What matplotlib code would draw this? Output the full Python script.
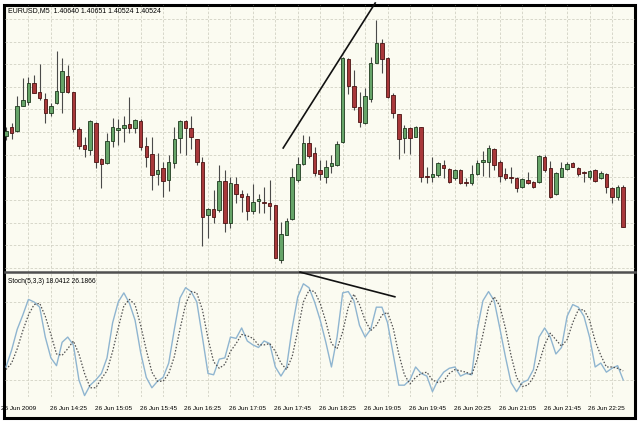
import matplotlib.pyplot as plt
from matplotlib.patches import Rectangle
import numpy as np

# EURUSD M5 candles, price levels (arbitrary points, higher = higher price)
opens = [134, 143, 139, 164, 168, 187, 178, 171, 157, 167,
         178, 194, 178, 141, 125, 120, 147, 111, 107, 129,
         140, 142, 146, 142, 149, 124, 116, 96, 102, 90,
         107, 132, 149, 142, 131, 108, 55, 61, 60, 89,
         47, 86, 76, 74, 59, 69, 68, 67, 65, 10,
         35, 51, 90, 106, 127, 117, 100, 93, 104, 105,
         128, 211, 184, 163, 147, 171, 207, 227, 212, 175,
         156, 132, 142, 133, 143, 94, 93, 95, 105, 101,
         92, 100, 88, 87, 96, 108, 108, 121, 108, 96,
         93, 92, 83, 90, 88, 88, 113, 102, 76, 93,
         101, 107, 102, 98, 93, 100, 92, 96, 82, 73,
         83]
closes = [139, 137, 164, 170, 187, 177, 172, 157, 164, 179,
          199, 178, 141, 124, 121, 149, 108, 106, 129, 143,
          142, 145, 142, 150, 123, 113, 95, 100, 89, 108,
          131, 149, 142, 133, 108, 53, 61, 53, 89, 47,
          87, 76, 73, 59, 68, 71, 67, 64, 12, 36,
          49, 93, 106, 127, 114, 97, 96, 103, 107, 126,
          212, 184, 163, 148, 174, 207, 227, 211, 173, 157,
          131, 142, 132, 143, 93, 93, 96, 107, 102, 88,
          100, 87, 87, 96, 107, 110, 122, 105, 94, 92,
          92, 82, 91, 87, 83, 114, 100, 73, 97, 102,
          106, 103, 96, 97, 99, 89, 97, 83, 73, 83,
          43]
highs = [143, 147, 174, 192, 193, 195, 206, 177, 167, 219,
         212, 205, 178, 143, 133, 150, 148, 112, 137, 152,
         151, 154, 173, 151, 151, 133, 133, 117, 108, 115,
         143, 150, 150, 154, 131, 113, 62, 80, 105, 100,
         93, 93, 80, 77, 86, 76, 83, 90, 65, 48,
         52, 102, 113, 135, 134, 123, 110, 110, 115, 129,
         213, 212, 200, 178, 182, 213, 250, 231, 213, 177,
         156, 145, 143, 144, 143, 103, 113, 108, 110, 102,
         101, 101, 92, 105, 110, 119, 125, 122, 110, 102,
         103, 93, 92, 98, 89, 115, 115, 109, 98, 108,
         108, 108, 103, 99, 100, 101, 99, 97, 83, 85,
         85]
lows = [130, 131, 138, 164, 165, 177, 170, 147, 154, 166,
        157, 177, 138, 121, 113, 115, 102, 82, 106, 123,
        125, 128, 137, 137, 120, 103, 80, 85, 73, 79,
        102, 117, 115, 121, 105, 24, 32, 47, 58, 38,
        42, 67, 58, 50, 56, 57, 57, 50, 12, 7,
        35, 50, 88, 105, 112, 94, 90, 87, 97, 104,
        127, 176, 160, 143, 146, 168, 207, 197, 172, 152,
        111, 117, 116, 133, 88, 87, 88, 93, 92, 87,
        90, 86, 84, 85, 95, 94, 93, 100, 88, 90,
        87, 78, 82, 86, 82, 87, 98, 72, 75, 93,
        100, 103, 94, 88, 91, 88, 91, 77, 67, 70,
        43]

# Stochastic(5,3,3): %K (solid) and %D (dotted)
stoch_k = [30, 43, 59, 70, 82, 80, 76, 53, 37, 31,
           49, 53, 47, 20, 8, 16, 20, 25, 37, 64,
           80, 87, 79, 66, 41, 22, 14, 19, 22, 33,
           59, 83, 91, 88, 80, 53, 25, 24, 36, 37,
           53, 52, 60, 50, 47, 45, 50, 48, 30, 23,
           30, 60, 84, 94, 91, 80, 66, 49, 30, 53,
           87, 88, 81, 62, 53, 59, 76, 76, 64, 40,
           16, 16, 20, 30, 25, 23, 11, 20, 26, 29,
           30, 23, 25, 24, 59, 81, 88, 81, 60, 38,
           18, 11, 18, 20, 28, 53, 60, 53, 40, 45,
           69, 78, 76, 69, 53, 30, 33, 26, 29, 31,
           20]
stoch_d = [28, 33, 44, 58, 70, 78, 79, 69, 55, 40,
           39, 44, 50, 40, 25, 14, 14, 21, 27, 42,
           60, 77, 82, 78, 62, 43, 26, 19, 19, 25,
           38, 59, 78, 88, 87, 74, 52, 34, 29, 32,
           42, 48, 55, 54, 52, 47, 47, 48, 42, 33,
           28, 38, 58, 80, 89, 88, 79, 65, 48, 44,
           57, 76, 86, 78, 66, 58, 62, 70, 72, 60,
           40, 24, 17, 22, 25, 26, 20, 18, 19, 25,
           28, 27, 26, 24, 36, 55, 76, 84, 77, 60,
           39, 22, 15, 16, 22, 33, 47, 56, 51, 46,
           51, 64, 74, 74, 66, 50, 39, 30, 30, 29,
           27]

time_labels = ['26 Jun 2009', '26 Jun 14:25', '26 Jun 15:05', '26 Jun 15:45',
               '26 Jun 16:25', '26 Jun 17:05', '26 Jun 17:45', '26 Jun 18:25',
               '26 Jun 19:05', '26 Jun 19:45', '26 Jun 20:25', '26 Jun 21:05',
               '26 Jun 21:45', '26 Jun 22:25']
label_bars = [-0.7, 8, 16, 24, 32, 40, 48, 56, 64, 72, 80, 88, 96, 104]

# hand drawn trend lines (bar index, level)
price_line = ([49.4, 65.8], [122, 267])
stoch_line = ([52.4, 69.3], [103, 84])

bg = '#fbfbf1'
grid_col = '#d2d2c4'
font = ['Liberation Sans', 'DejaVu Sans']

fig = plt.figure(figsize=(6.4, 4.28), dpi=100)
fig.patch.set_facecolor('white')
fig.add_artist(Rectangle((4 / 640, 1 - 418 / 428), 631 / 640, 413 / 428,
                         transform=fig.transFigure, facecolor=bg,
                         edgecolor='black', lw=2.2, zorder=0))

ax = fig.add_axes([5 / 640, 1 - 272 / 428, 630 / 640, 267 / 428])
ax2 = fig.add_axes([5 / 640, 1 - 397 / 428, 630 / 640, 124 / 428])

x = np.arange(len(opens))
o = np.array(opens)
c = np.array(closes)

for a in (ax, ax2):
    a.set_facecolor('none')
    a.set_xlim(-0.18, 112.1)
    a.set_xticks([])
    a.set_yticks([])
    for s in a.spines.values():
        s.set_visible(False)
    for gx in range(4, 112, 4):
        a.axvline(gx, color=grid_col, lw=0.6, ls=(0, (3, 2)), zorder=1)

# price panel
ax.set_ylim(-2, 265)
for gy in np.arange(2, 265, 22.65):
    ax.axhline(gy, color=grid_col, lw=0.6, ls=(0, (3, 2)), zorder=1)
ax.spines['bottom'].set_visible(True)
ax.spines['bottom'].set_color('#505050')
ax.spines['bottom'].set_linewidth(1.8)

up = c >= o
body_col = np.where(up, '#66a468', '#a8383a')
edge_col = np.where(up, '#1e3a1e', '#4a1212')
ax.vlines(x, lows, highs, color='#4a4a4a', lw=0.8, zorder=2)
ax.bar(x, c - o, bottom=o, width=0.62, color=body_col, edgecolor=edge_col,
       lw=0.6, zorder=3)
ax.plot(*price_line, color='#111111', lw=1.2, zorder=4, clip_on=False)
ax.text(0.005, 0.981, 'EURUSD,M5  1.40640 1.40651 1.40524 1.40524',
        transform=ax.transAxes, fontsize=5, family=font, va='center', ha='left')

# stochastic panel
ax2.set_ylim(6.9, 102.3)
for lvl in (20, 80):
    ax2.axhline(lvl, color=grid_col, lw=0.6, ls=(0, (3, 2)), zorder=1)
ax2.plot(x, stoch_k, color='#8fb5d0', lw=1.0, zorder=3)
ax2.plot(x, stoch_d, color='#505050', lw=0.9, ls=(0, (1.2, 1.4)), zorder=3)
ax2.plot(*stoch_line, color='#111111', lw=1.2, zorder=4, clip_on=False)
ax2.text(0.004, 0.935, 'Stoch(5,3,3) 18.0412 26.1866',
         transform=ax2.transAxes, fontsize=4.8, family=font, va='center', ha='left')

# time axis labels
for bx, lab in zip(label_bars, time_labels):
    ax2.text(bx - 0.2, -0.09, lab, transform=ax2.get_xaxis_transform(),
             fontsize=4.6, family=font, va='center', ha='left', clip_on=False)

fig.savefig('out.png', dpi=100, facecolor='white')
